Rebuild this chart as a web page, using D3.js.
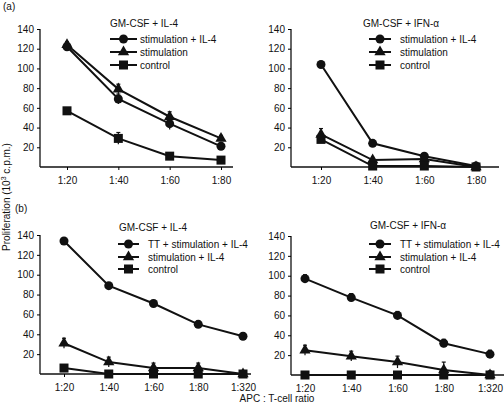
<!DOCTYPE html>
<html><head><meta charset="utf-8">
<script src="https://cdn.jsdelivr.net/npm/d3@7"></script>
<style>
body{margin:0;background:#fff;}
svg text{font-family:"Liberation Sans",Arial,sans-serif;fill:#111;}
</style></head>
<body><svg id="c" width="504" height="406"></svg>
<script>
// ---- data ----
const ratiosA = ["1:20","1:40","1:60","1:80"];
const ratiosB = ["1:20","1:40","1:60","1:80","1:320"];
const yTicks = [20,40,60,80,100,120,140];

const titleAL = "GM-CSF + IL-4", titleAR = "GM-CSF + IFN-\u03b1";
const namesA = ["stimulation + IL-4","stimulation","control"];
const namesB = ["TT + stimulation + IL-4","stimulation + IL-4","control"];

// panel (a) left: GM-CSF + IL-4
const aL_circle = [122,69,44,21], aL_circleErr = [3,5,6,2];
const aL_tri    = [124,79,51,29], aL_triErr    = [3,5,5,3];
const aL_sq     = [57,29,11,7],   aL_sqErr     = [3,6,3,1];
// panel (a) right: GM-CSF + IFN-a
const aR_circle = [104,24,11,1], aR_circleErr = [3,1,1,1];
const aR_tri    = [33,7,8,0],    aR_triErr    = [6,1,1,0];
const aR_sq     = [28,1,1,0],    aR_sqErr     = [2,0,0,0];
// panel (b) left: GM-CSF + IL-4
const bL_circle = [134,89,71,50,38], bL_circleErr = [3,3,3,3,3];
const bL_tri    = [31,12,6,6,0],     bL_triErr    = [5,5,5,5,1];
const bL_sq     = [6,0,0,0,0],       bL_sqErr     = [3,1,1,1,1];
// panel (b) right: GM-CSF + IFN-a
const bR_circle = [97,78,60,32,21], bR_circleErr = [4,4,4,4,4];
const bR_tri    = [25,19,13,5,0],   bR_triErr    = [5,5,6,8,4];
const bR_sq     = [0,0,0,0,0],      bR_sqErr     = [1,1,1,1,1];

// ---- layout ----
const svg = d3.select("#c");
const panels = [
  {cats:ratiosA, title:titleAL, names:namesA, ax:40, axEnd:233, x0:67, x1:221, yTop:29, yBot:167,
   tx:110, ty:27, lx0:110, lx1:137, ltx:140, ly:[39,52,65],
   series:[[aL_circle,aL_circleErr,"circle"],[aL_tri,aL_triErr,"tri"],[aL_sq,aL_sqErr,"sq"]]},
  {cats:ratiosA, title:titleAR, names:namesA, ax:291, axEnd:499, x0:321, x1:476, yTop:29, yBot:167,
   tx:363, ty:27, lx0:369, lx1:391, ltx:400, ly:[39,52,65],
   series:[[aR_circle,aR_circleErr,"circle"],[aR_tri,aR_triErr,"tri"],[aR_sq,aR_sqErr,"sq"]]},
  {cats:ratiosB, title:titleAL, names:namesB, ax:40, axEnd:251, x0:64, x1:243, yTop:235, yBot:374,
   tx:119, ty:231, lx0:118, lx1:139, ltx:148, ly:[244,257,269],
   series:[[bL_circle,bL_circleErr,"circle"],[bL_tri,bL_triErr,"tri"],[bL_sq,bL_sqErr,"sq"]]},
  {cats:ratiosB, title:titleAR, names:namesB, ax:291, axEnd:504, x0:305, x1:490, yTop:236, yBot:375,
   tx:370, ty:229, lx0:369, lx1:391, ltx:400, ly:[244,257,269],
   series:[[bR_circle,bR_circleErr,"circle"],[bR_tri,bR_triErr,"tri"],[bR_sq,bR_sqErr,"sq"]]}
];

function marker(g, type, x, y){
  if(type==="circle") g.append("circle").attr("cx",x).attr("cy",y).attr("r",4.5).attr("fill","#111");
  else if(type==="tri") g.append("path").attr("d",d3.symbol(d3.symbolTriangle,55)()).attr("transform",`translate(${x},${y})`).attr("fill","#111");
  else g.append("rect").attr("x",x-4.5).attr("y",y-4.5).attr("width",9).attr("height",9).attr("fill","#111");
}

panels.forEach(p=>{
  const x = d3.scalePoint().domain(p.cats).range([p.x0,p.x1]);
  const y = d3.scaleLinear().domain([0,140]).range([p.yBot,p.yTop]);
  const g = svg.append("g");
  const ya = g.append("g").attr("transform",`translate(${p.ax},0)`)
    .call(d3.axisLeft(y).tickValues(yTicks).tickSize(3).tickPadding(3));
  ya.select(".domain").attr("d",`M0,${p.yTop}V${p.yBot}`).attr("stroke","#111").attr("stroke-width",1.3);
  ya.selectAll("text").attr("font-size",10);
  const xa = g.append("g").attr("transform",`translate(0,${p.yBot})`)
    .call(d3.axisBottom(x).tickSize(3).tickPadding(7));
  xa.select(".domain").attr("d",`M${p.ax},0H${p.axEnd}`).attr("stroke","#111").attr("stroke-width",1.6);
  xa.selectAll("text").attr("font-size",10);
  p.series.forEach(([vals,errs,type])=>{
    const line = d3.line().x((d,i)=>x(p.cats[i])).y(d=>y(d));
    g.append("path").attr("d",line(vals)).attr("fill","none").attr("stroke","#111").attr("stroke-width",2);
    vals.forEach((v,i)=>{
      const cx = x(p.cats[i]);
      if(errs[i]>0){
        g.append("line").attr("x1",cx).attr("x2",cx).attr("y1",y(v+errs[i])).attr("y2",y(Math.max(0,v-errs[i]))).attr("stroke","#111").attr("stroke-width",1.2);
        g.append("line").attr("x1",cx-2).attr("x2",cx+2).attr("y1",y(v+errs[i])).attr("y2",y(v+errs[i])).attr("stroke","#111").attr("stroke-width",1.2);
      }
      marker(g,type,cx,y(v));
    });
  });
  g.append("text").attr("x",p.tx).attr("y",p.ty).attr("font-size",10).text(p.title);
  p.series.forEach(([,,type],k)=>{
    const ly = p.ly[k];
    g.append("line").attr("x1",p.lx0).attr("x2",p.lx1).attr("y1",ly).attr("y2",ly).attr("stroke","#111").attr("stroke-width",2);
    marker(g,type,(p.lx0+p.lx1)/2,ly);
    g.append("text").attr("x",p.ltx).attr("y",ly+3.5).attr("font-size",10).text(p.names[k]);
  });
});

svg.append("text").attr("x",3).attr("y",10).attr("font-size",10).text("(a)");
svg.append("text").attr("x",15).attr("y",212).attr("font-size",10).text("(b)");
svg.append("text").attr("transform","translate(10,197) rotate(-90)").attr("text-anchor","middle").attr("font-size",10)
  .html('Proliferation (10<tspan dy="-4" font-size="7">3</tspan><tspan dy="4"> c.p.m.)</tspan>');
svg.append("text").attr("x",277).attr("y",402).attr("text-anchor","middle").attr("font-size",10).text("APC : T-cell ratio");
</script></body></html>
